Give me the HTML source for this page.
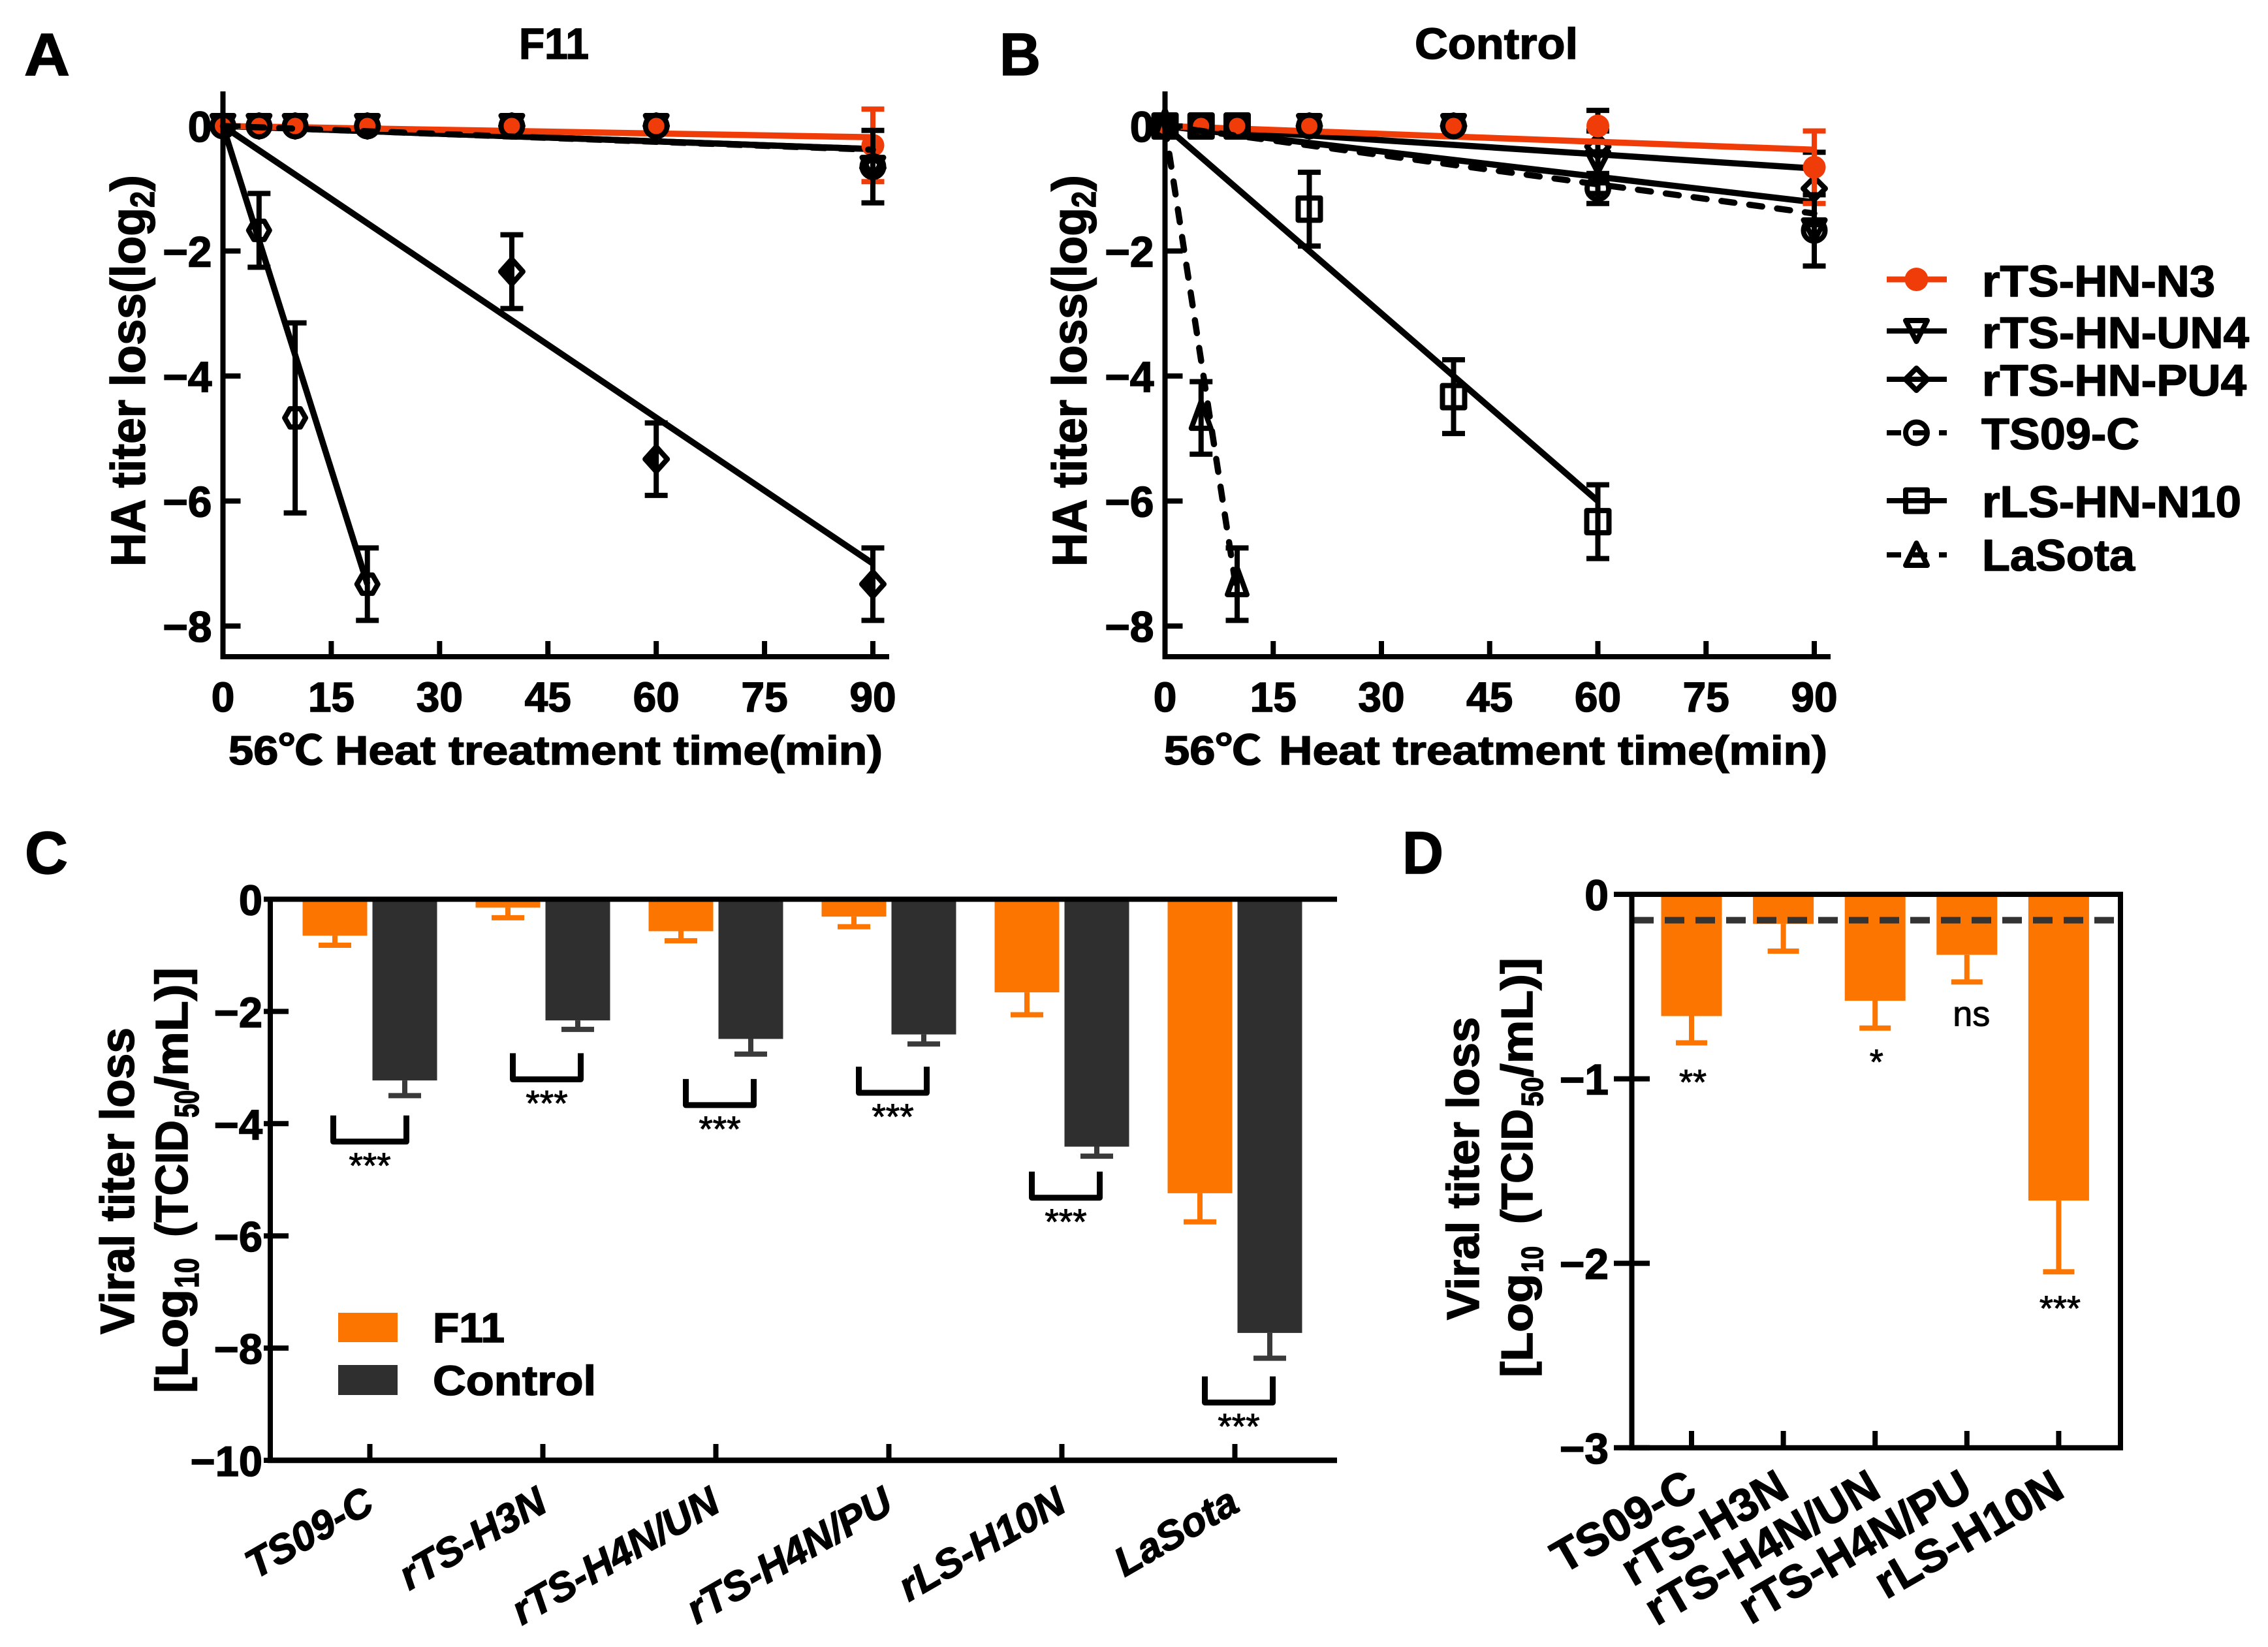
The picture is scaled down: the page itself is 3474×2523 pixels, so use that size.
<!DOCTYPE html>
<html>
<head>
<meta charset="utf-8">
<title>Heat stability of HA titer and viral titer</title>
<style>
html,body{margin:0;padding:0;background:#fff;}
svg{display:block;}
text{font-family:"Liberation Sans","Noto Sans CJK SC",sans-serif;fill:#000;}
.b{font-weight:700;stroke:#000;stroke-width:1.5px;}
</style>
</head>
<body>
<svg id="fig" xmlns="http://www.w3.org/2000/svg" width="3474" height="2523" viewBox="0 0 3474 2523">
<rect x="0" y="0" width="3474" height="2523" fill="#fff"/>

<!-- Panel letters -->
<text class="b" x="37" y="115" font-size="92" textLength="70" lengthAdjust="spacingAndGlyphs">A</text>
<text class="b" x="1531" y="115" font-size="92" textLength="63" lengthAdjust="spacingAndGlyphs">B</text>
<text class="b" x="38" y="1338" font-size="92" textLength="66" lengthAdjust="spacingAndGlyphs">C</text>
<text class="b" x="2148" y="1338" font-size="92" textLength="63" lengthAdjust="spacingAndGlyphs">D</text>

<!-- Panel A static text -->
<text class="b" x="795" y="90" font-size="67" textLength="107" lengthAdjust="spacingAndGlyphs">F11</text>
<g>
<text class="b" transform="translate(222,868) rotate(-90)" font-size="74" textLength="550" lengthAdjust="spacingAndGlyphs">HA titer loss(log</text>
<text class="b" transform="translate(236,318) rotate(-90)" font-size="52" textLength="25" lengthAdjust="spacingAndGlyphs">2</text>
<text class="b" transform="translate(222,293) rotate(-90)" font-size="74" textLength="25" lengthAdjust="spacingAndGlyphs">)</text>
</g>
<g>
<text class="b" x="350" y="1171" font-size="62" textLength="145" lengthAdjust="spacingAndGlyphs">56℃</text>
<text class="b" x="513" y="1171" font-size="62" textLength="839" lengthAdjust="spacingAndGlyphs">Heat treatment time(min)</text>
</g>

<!-- Panel B static text -->
<text class="b" x="2167" y="90" font-size="67" textLength="250" lengthAdjust="spacingAndGlyphs">Control</text>
<g>
<text class="b" transform="translate(1664,868) rotate(-90)" font-size="74" textLength="550" lengthAdjust="spacingAndGlyphs">HA titer loss(log</text>
<text class="b" transform="translate(1678,318) rotate(-90)" font-size="52" textLength="25" lengthAdjust="spacingAndGlyphs">2</text>
<text class="b" transform="translate(1664,293) rotate(-90)" font-size="74" textLength="25" lengthAdjust="spacingAndGlyphs">)</text>
</g>
<g>
<text class="b" x="1783" y="1171" font-size="62" textLength="149" lengthAdjust="spacingAndGlyphs">56℃</text>
<text class="b" x="1959" y="1171" font-size="62" textLength="840" lengthAdjust="spacingAndGlyphs">Heat treatment time(min)</text>
</g>

<!-- Legend A/B -->
<g fill="none" stroke="#000" stroke-width="8" stroke-linejoin="round">
<g>
<line x1="2890" y1="428" x2="2982" y2="428" stroke="#f03c08" stroke-width="9"/>
<circle cx="2935.5" cy="428" r="18" fill="#f03c08" stroke="none"/>
<text class="b" x="3036" y="454" font-size="68" textLength="357" lengthAdjust="spacingAndGlyphs">rTS-HN-N3</text>
</g>
<g>
<line x1="2890" y1="507" x2="2982" y2="507"/>
<polygon points="2919,491 2952,491 2935.5,523"/>
<text class="b" x="3036" y="533" font-size="68" textLength="409" lengthAdjust="spacingAndGlyphs">rTS-HN-UN4</text>
</g>
<g>
<line x1="2890" y1="581" x2="2982" y2="581"/>
<polygon points="2935.5,564 2952.5,581 2935.5,598 2918.5,581"/>
<text class="b" x="3036" y="606" font-size="68" textLength="405" lengthAdjust="spacingAndGlyphs">rTS-HN-PU4</text>
</g>
<g>
<line x1="2890" y1="663" x2="2982" y2="663" stroke-dasharray="22,18"/>
<circle cx="2935.5" cy="663" r="16.5"/>
<text class="b" x="3035" y="688" font-size="68" textLength="242" lengthAdjust="spacingAndGlyphs">TS09-C</text>
</g>
<g>
<line x1="2890" y1="767" x2="2982" y2="767"/>
<rect x="2919" y="750.5" width="33" height="33"/>
<text class="b" x="3036" y="792" font-size="68" textLength="397" lengthAdjust="spacingAndGlyphs">rLS-HN-N10</text>
</g>
<g>
<line x1="2890" y1="850" x2="2982" y2="850" stroke-dasharray="22,18"/>
<polygon points="2935.5,832 2952,866 2919,866"/>
<text class="b" x="3036" y="874" font-size="68" textLength="234" lengthAdjust="spacingAndGlyphs">LaSota</text>
</g>
</g>

<!-- Panel C static text -->
<g>
<text class="b" transform="translate(205,2044) rotate(-90)" font-size="73" textLength="470" lengthAdjust="spacingAndGlyphs">Viral titer loss</text>
<text class="b" transform="translate(287,2134) rotate(-90)" font-size="70" textLength="159" lengthAdjust="spacingAndGlyphs">[Log</text>
<text class="b" transform="translate(304,1973) rotate(-90)" font-size="52" textLength="46" lengthAdjust="spacingAndGlyphs">10</text>
<text class="b" transform="translate(287,1895) rotate(-90)" font-size="70" textLength="179" lengthAdjust="spacingAndGlyphs">(TCID</text>
<text class="b" transform="translate(304,1712) rotate(-90)" font-size="52" textLength="42" lengthAdjust="spacingAndGlyphs">50</text>
<text class="b" transform="translate(287,1670) rotate(-90)" font-size="70" textLength="188" lengthAdjust="spacingAndGlyphs">/mL)]</text>
</g>
<g>
<g>
<rect x="518" y="2011" width="91" height="45" fill="#fb7500"/>
<text class="b" x="663" y="2056" font-size="64" textLength="110" lengthAdjust="spacingAndGlyphs">F11</text>
</g>
<g>
<rect x="518" y="2091" width="91" height="46" fill="#2f2f2f"/>
<text class="b" x="663" y="2137" font-size="64" textLength="250" lengthAdjust="spacingAndGlyphs">Control</text>
</g>
</g>

<!-- Panel D static text -->
<g>
<text class="b" transform="translate(2265,2022) rotate(-90)" font-size="70" textLength="464" lengthAdjust="spacingAndGlyphs">Viral titer loss</text>
<text class="b" transform="translate(2347,2110) rotate(-90)" font-size="68" textLength="159" lengthAdjust="spacingAndGlyphs">[Log</text>
<text class="b" transform="translate(2363,1949) rotate(-90)" font-size="46" textLength="40" lengthAdjust="spacingAndGlyphs">10</text>
<text class="b" transform="translate(2347,1875) rotate(-90)" font-size="68" textLength="176" lengthAdjust="spacingAndGlyphs">(TCID</text>
<text class="b" transform="translate(2363,1695) rotate(-90)" font-size="46" textLength="45" lengthAdjust="spacingAndGlyphs">50</text>
<text class="b" transform="translate(2347,1650) rotate(-90)" font-size="68" textLength="183" lengthAdjust="spacingAndGlyphs">/mL)]</text>
</g>

<g id="plot-a"></g>
<g id="plot-b"></g>
<g id="plot-c"></g>
<g id="plot-d"></g>
</svg>

<script>
// ---------- shared tick labels ----------
const timeTicks = [0, 15, 30, 45, 60, 75, 90];
const hiLossTicks = [0, -2, -4, -6, -8];

// ---------- Panel A (F11) ----------
const aTimes = [0, 5, 10, 20, 40, 60, 90];
const aN3Values = [0, 0, 0, 0, 0, 0, -0.31];
const aN3Errors = [0, 0, 0, 0, 0, 0, 0.58];
const aN3FitTimes = [0, 90];
const aN3FitValues = [0, -0.18];
const aUN4Values = [0, 0, 0, 0, 0, 0, -0.67];
const aUN4Errors = [0, 0, 0, 0, 0, 0, 0];
const aUN4FitTimes = [0, 90];
const aUN4FitValues = [0, -0.37];
const aPU4Values = [0, 0, 0, 0, 0, 0, -0.67];
const aPU4Errors = [0, 0, 0, 0, 0, 0, 0];
const aPU4FitTimes = [0, 90];
const aPU4FitValues = [0, -0.37];
const aTS09Values = [0, 0, 0, 0, 0, 0, -0.65];
const aTS09Errors = [0, 0, 0, 0, 0, 0, 0.58];
const aTS09FitTimes = [0, 90];
const aTS09FitValues = [0, -0.38];
const aFastTimes = [5, 10, 20];
const aFastValues = [-1.67, -4.67, -7.33];
const aFastErrors = [0.59, 1.52, 0.58];
const aFastFitTimes = [0, 20];
const aFastFitValues = [0, -7.33];
const aSlowTimes = [40, 60, 90];
const aSlowValues = [-2.33, -5.33, -7.33];
const aSlowErrors = [0.59, 0.58, 0.58];
const aSlowFitTimes = [0, 90];
const aSlowFitValues = [0, -7.0];

// ---------- Panel B (Control) ----------
const bTimes = [0, 5, 10, 20, 40, 60, 90];
const bN3Values = [0, 0, 0, 0, 0, 0, -0.66];
const bN3Errors = [0, 0, 0, 0, 0, 0, 0.58];
const bN3FitTimes = [0, 90];
const bN3FitValues = [0, -0.38];
const bUN4Values = [0, 0, 0, 0, 0, -0.58, -1.67];
const bUN4Errors = [0, 0, 0, 0, 0, 0.5, 0];
const bUN4FitTimes = [0, 90];
const bUN4FitValues = [0, -1.22];
const bPU4Values = [0, 0, 0, 0, 0, -0.33, -1.0];
const bPU4Errors = [0, 0, 0, 0, 0, 0.58, 0.58];
const bPU4FitTimes = [0, 90];
const bPU4FitValues = [0, -0.68];
const bTS09Values = [0, 0, 0, 0, 0, -1.0, -1.67];
const bTS09Errors = [0, 0, 0, 0, 0, 0.24, 0.57];
const bTS09FitTimes = [0, 90];
const bTS09FitValues = [0, -1.4];
const bN10Times = [0, 5, 10, 20, 40, 60];
const bN10Values = [0, 0, 0, -1.33, -4.33, -6.33];
const bN10Errors = [0, 0, 0, 0.59, 0.59, 0.59];
const bN10FitTimes = [0, 60];
const bN10FitValues = [0, -6.0];
const bLaSotaTimes = [0, 5, 10];
const bLaSotaValues = [0, -4.67, -7.33];
const bLaSotaErrors = [0, 0.58, 0.58];
const bLaSotaFitTimes = [0, 10];
const bLaSotaFitValues = [0, -7.5];

// ---------- Panel C ----------
const cCategories = ['TS09-C', 'rTS-H3N', 'rTS-H4N/UN', 'rTS-H4N/PU', 'rLS-H10N', 'LaSota'];
const cTicks = [0, -2, -4, -6, -8, -10];
const cF11Values = [-0.65, -0.15, -0.57, -0.31, -1.66, -5.24];
const cF11Errors = [0.17, 0.18, 0.17, 0.18, 0.40, 0.51];
const cControlValues = [-3.23, -2.16, -2.49, -2.41, -4.41, -7.73];
const cControlErrors = [0.27, 0.16, 0.27, 0.17, 0.17, 0.45];
const cBracketValues = [-4.32, -3.21, -3.67, -3.45, -5.32, -8.97];
const cSigLabels = ['***', '***', '***', '***', '***', '***'];

// ---------- Panel D ----------
const dCategories = ['TS09-C', 'rTS-H3N', 'rTS-H4N/UN', 'rTS-H4N/PU', 'rLS-H10N'];
const dTicks = [0, -1, -2, -3];
const dValues = [-0.66, -0.16, -0.577, -0.328, -1.66];
const dErrors = [0.145, 0.148, 0.148, 0.147, 0.386];
const dReferenceValue = -0.14;
const dSigLabels = ['**', '', '*', 'ns', '***'];
const dSigValues = [-0.984, 0, -0.874, -0.653, -2.21];

// ---------- helpers ----------
const NS = 'http://www.w3.org/2000/svg';
const RED = '#f03c08', ORANGE = '#fb7500', DARK = '#2f2f2f', BLACK = '#000';

function make(parent, tag, attrs) {
  const el = document.createElementNS(NS, tag);
  for (const k in attrs) el.setAttribute(k, attrs[k]);
  parent.appendChild(el);
  return el;
}
function linear(d0, d1, r0, r1) {
  return function (v) { return r0 + (v - d0) * (r1 - r0) / (d1 - d0); };
}
function minusLabel(v) {
  return v < 0 ? '\u2212' + Math.abs(v) : String(v);
}
function markerPoints(kind) {
  if (kind === 'triangle-down') return '-16.5,-16 16.5,-16 0,16';
  if (kind === 'triangle-up') return '0,-25 15,16 -15,16';
  if (kind === 'diamond') return '0,-17 17,0 0,17 -17,0';
  if (kind === 'half-diamond') return '0,-19 17,0 0,19 -17,0';
  if (kind === 'hexagon') return '-16,0 -8,-14 8,-14 16,0 8,14 -8,14';
  return '';
}

function drawMarker(parent, kind, cx, cy, color) {
  let el;
  if (kind === 'dot') {
    el = make(parent, 'circle', { cx: cx, cy: cy, r: 17.5, fill: color });
  } else if (kind === 'ring') {
    el = make(parent, 'circle', { cx: cx, cy: cy, r: 16.5, fill: 'none', stroke: color, 'stroke-width': 8 });
  } else if (kind === 'square') {
    el = make(parent, 'rect', { x: cx - 17, y: cy - 17, width: 34, height: 34, fill: 'none', stroke: color, 'stroke-width': 8, 'stroke-linejoin': 'round' });
  } else {
    el = make(parent, 'polygon', { points: markerPoints(kind), transform: 'translate(' + cx + ',' + cy + ')', fill: 'none', stroke: color, 'stroke-width': 8, 'stroke-linejoin': 'round' });
    if (kind === 'half-diamond') {
      const half = make(parent, 'polygon', { points: '0,-19 0,19 -17,0', transform: 'translate(' + cx + ',' + cy + ')', fill: color });
      
      
    }
  }
  
  
}

function drawSeries(parent, x, y, times, values, errors, fitTimes, fitValues, marker, color, dashed) {
  const g = make(parent, 'g', {});
  
  
  const fit = make(g, 'line', {
    x1: x(fitTimes[0]), y1: y(fitValues[0]), x2: x(fitTimes[1]), y2: y(fitValues[1]),
    stroke: color, 'stroke-width': 9.5, 'stroke-linecap': dashed ? 'round' : 'butt',
    'stroke-dasharray': dashed ? '20,23' : 'none'
  });
  
  
  times.forEach(function (t, i) {
    const px = x(t), py = y(values[i]);
    if (errors[i] > 0) {
      const yTop = y(values[i] + errors[i]), yBot = y(values[i] - errors[i]);
      const eb = make(g, 'path', {
        d: 'M' + px + ' ' + yTop + 'V' + yBot + 'M' + (px - 17.5) + ' ' + yTop + 'H' + (px + 17.5) + 'M' + (px - 17.5) + ' ' + yBot + 'H' + (px + 17.5),
        stroke: color, 'stroke-width': 8, fill: 'none'
      });
      
      
    }
    drawMarker(g, marker, px, py, color);
  });
}

function axisText(parent, str, px, py, anchor, size) {
  const t = make(parent, 'text', { x: px, y: py, 'text-anchor': anchor, 'font-size': size, 'class': 'b' });
  t.textContent = str;
  return t;
}

function drawTimeAxes(parent, x, y, xRight) {
  const yAxis = make(parent, 'line', { x1: x(0), y1: 140, x2: x(0), y2: 1010, stroke: BLACK, 'stroke-width': 8 });
  
  
  const xAxis = make(parent, 'line', { x1: x(0) - 4, y1: 1006, x2: xRight, y2: 1006, stroke: BLACK, 'stroke-width': 8 });
  
  
  hiLossTicks.forEach(function (v) {
    const tick = make(parent, 'line', { x1: x(0), y1: y(v), x2: x(0) + 27, y2: y(v), stroke: BLACK, 'stroke-width': 8 });
    
    
    const label = axisText(parent, minusLabel(v), x(0) - 17, y(v) + 24, 'end', 66);
    
    
  });
  timeTicks.forEach(function (v) {
    const tick = make(parent, 'line', { x1: x(v), y1: 982, x2: x(v), y2: 1006, stroke: BLACK, 'stroke-width': 8 });
    
    
    const label = axisText(parent, String(v), x(v), 1090, 'middle', 64);
    
    
  });
}

// ---------- Panel A ----------
(function () {
  const p = document.getElementById('plot-a');
  const x = linear(0, 90, 341.5, 1337);
  const y = linear(0, -8, 193, 959);
  drawSeries(p, x, y, aTimes, aUN4Values, aUN4Errors, aUN4FitTimes, aUN4FitValues, 'triangle-down', BLACK, false);
  drawSeries(p, x, y, aTimes, aPU4Values, aPU4Errors, aPU4FitTimes, aPU4FitValues, 'diamond', BLACK, false);
  drawSeries(p, x, y, aTimes, aN3Values, aN3Errors, aN3FitTimes, aN3FitValues, 'dot', RED, false);
  drawSeries(p, x, y, aTimes, aTS09Values, aTS09Errors, aTS09FitTimes, aTS09FitValues, 'ring', BLACK, true);
  drawSeries(p, x, y, aFastTimes, aFastValues, aFastErrors, aFastFitTimes, aFastFitValues, 'hexagon', BLACK, false);
  drawSeries(p, x, y, aSlowTimes, aSlowValues, aSlowErrors, aSlowFitTimes, aSlowFitValues, 'half-diamond', BLACK, false);
  drawTimeAxes(p, x, y, 1362);
})();

// ---------- Panel B ----------
(function () {
  const p = document.getElementById('plot-b');
  const x = linear(0, 90, 1784.5, 2779);
  const y = linear(0, -8, 193, 959);
  drawSeries(p, x, y, bTimes, bUN4Values, bUN4Errors, bUN4FitTimes, bUN4FitValues, 'triangle-down', BLACK, false);
  drawSeries(p, x, y, bTimes, bPU4Values, bPU4Errors, bPU4FitTimes, bPU4FitValues, 'diamond', BLACK, false);
  drawSeries(p, x, y, bTimes, bN3Values, bN3Errors, bN3FitTimes, bN3FitValues, 'dot', RED, false);
  drawSeries(p, x, y, bTimes, bTS09Values, bTS09Errors, bTS09FitTimes, bTS09FitValues, 'ring', BLACK, true);
  drawSeries(p, x, y, bN10Times, bN10Values, bN10Errors, bN10FitTimes, bN10FitValues, 'square', BLACK, false);
  drawSeries(p, x, y, bLaSotaTimes, bLaSotaValues, bLaSotaErrors, bLaSotaFitTimes, bLaSotaFitValues, 'triangle-up', BLACK, true);
  drawTimeAxes(p, x, y, 2804);
})();

// ---------- bar helpers ----------
function drawBar(parent, cx, width, y, value, error, color, errColor, capWidth) {
  const top = y(0), bot = y(value);
  const bar = make(parent, 'rect', { x: cx - width / 2, y: top, width: width, height: bot - top, fill: color });
  
  
  const low = y(value - error);
  const eb = make(parent, 'path', {
    d: 'M' + cx + ' ' + bot + 'V' + low + 'M' + (cx - capWidth / 2) + ' ' + low + 'H' + (cx + capWidth / 2),
    stroke: errColor, 'stroke-width': 8, fill: 'none'
  });
  
  
}
function drawCategoryLabel(parent, str, px, py, size, italic) {
  const t = make(parent, 'text', {
    transform: 'translate(' + px + ',' + py + ') rotate(-30)',
    'text-anchor': 'end', 'font-size': size, 'class': 'b', 'font-style': italic ? 'italic' : 'normal'
  });
  t.textContent = str;
  return t;
}

// ---------- Panel C ----------
(function () {
  const p = document.getElementById('plot-c');
  const y = linear(0, -10, 1377.5, 2237);
  const x = function (i) { return 566.5 + i * 265; };
  cCategories.forEach(function (name, i) {
    drawBar(p, x(i) - 53.5, 99, y, cF11Values[i], cF11Errors[i], ORANGE, ORANGE, 50);
    drawBar(p, x(i) + 53.5, 99, y, cControlValues[i], cControlErrors[i], DARK, '#3a3a3a', 50);
    const bx = i === 0 ? x(i) : x(i) + 6, by = y(cBracketValues[i]), bw = i === 0 ? 56 : 52;
    const br = make(p, 'path', {
      d: 'M' + (bx - bw) + ' ' + (by - 40) + 'V' + by + 'H' + (bx + bw) + 'V' + (by - 40),
      stroke: BLACK, 'stroke-width': 9, fill: 'none', 'stroke-linejoin': 'round'
    });
    
    
    const s = make(p, 'text', { x: bx, y: by + 55, 'text-anchor': 'middle', 'font-size': 55, stroke: '#000', 'stroke-width': 1 });
    s.textContent = cSigLabels[i];
    
    
    const tick = make(p, 'line', { x1: x(i), y1: 2212, x2: x(i), y2: 2238, stroke: BLACK, 'stroke-width': 8 });
    
    
    const lab = drawCategoryLabel(p, name, x(i) + 10, 2313, 62, true);
    
    
  });
  const top = make(p, 'line', { x1: 410, y1: y(0), x2: 2048, y2: y(0), stroke: BLACK, 'stroke-width': 8 });
  
  
  const left = make(p, 'line', { x1: 414, y1: y(0), x2: 414, y2: y(-10) + 4, stroke: BLACK, 'stroke-width': 8 });
  
  
  const bottom = make(p, 'line', { x1: 410, y1: y(-10), x2: 2048, y2: y(-10), stroke: BLACK, 'stroke-width': 8.5 });
  
  
  cTicks.forEach(function (v) {
    const tick = make(p, 'line', { x1: 404, y1: y(v), x2: 442, y2: y(v), stroke: BLACK, 'stroke-width': 8 });
    
    
    const lab = axisText(p, minusLabel(v), 402, y(v) + 24, 'end', 65);
    
    
  });
})();

// ---------- Panel D ----------
(function () {
  const p = document.getElementById('plot-d');
  const y = linear(0, -3, 1370, 2217.8);
  const x = function (i) { return 2591 + i * 140.6; };
  dCategories.forEach(function (name, i) {
    drawBar(p, x(i), 93, y, dValues[i], dErrors[i], ORANGE, ORANGE, 48);
    const tick = make(p, 'line', { x1: x(i), y1: 2192, x2: x(i), y2: 2218, stroke: BLACK, 'stroke-width': 8 });
    
    
    const lab = drawCategoryLabel(p, name, x(i) + 12, 2291, 70, false);
    
    
    if (dSigLabels[i]) {
      const isNs = dSigLabels[i] === 'ns';
      const s = make(p, 'text', { x: x(i) + (isNs ? 7 : 2), y: y(dSigValues[i]) + (isNs ? 17 : 28), 'text-anchor': 'middle', 'font-size': 54, stroke: '#000', 'stroke-width': 1 });
      s.textContent = dSigLabels[i];
      
      
    }
  });
  const ref = make(p, 'line', { x1: 2503, y1: y(dReferenceValue), x2: 3248, y2: y(dReferenceValue), stroke: '#333', 'stroke-width': 10, 'stroke-dasharray': '30,17' });
  
  
  const box = make(p, 'rect', { x: 2499.5, y: y(0), width: 748.5, height: y(-3) - y(0), fill: 'none', stroke: BLACK, 'stroke-width': 8 });
  
  
  dTicks.forEach(function (v) {
    const tick = make(p, 'line', { x1: 2472, y1: y(v), x2: 2527, y2: y(v), stroke: BLACK, 'stroke-width': 8 });
    
    
    const lab = axisText(p, minusLabel(v), 2464, y(v) + 24, 'end', 66);
    
    
  });
})();
</script>
</body>
</html>
